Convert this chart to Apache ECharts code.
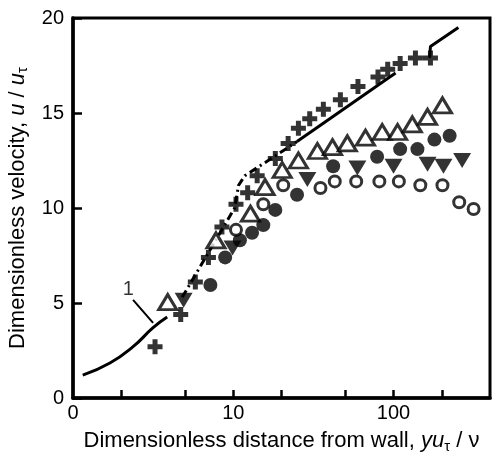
<!DOCTYPE html>
<html>
<head>
<meta charset="utf-8">
<script src="https://cdn.jsdelivr.net/npm/echarts@6/dist/echarts.min.js"></script>
<style>
  html, body { margin: 0; padding: 0; background: #fff; }
  #chart { width: 499px; height: 453px; }
</style>
</head>
<body>
<div id="chart"></div>
<script>
// [yu/v, u/u_tau] pairs
const crosses = [
  [3.25, 2.7], [4.7, 4.4], [5.8, 6.1], [7.0, 7.4], [8.5, 9.0], [10.4, 10.2],
  [12.3, 10.8], [14.1, 11.7], [18.3, 12.6], [22, 13.4], [25.5, 14.2], [30, 14.7],
  [36.5, 15.2], [46.6, 15.7], [60, 16.4], [80, 16.9], [92, 17.3], [110, 17.6],
  [137, 17.9], [170, 17.9]
]
const openTriangles = [
  [3.9, 5.05], [7.8, 8.3], [12.8, 9.7], [15.8, 11.1], [20.2, 12.0], [25.5, 12.5],
  [33.5, 13.0], [41.6, 13.2], [51.5, 13.4], [66.8, 13.7], [85, 14.0], [106, 14.0],
  [131, 14.4], [163, 14.8], [202, 15.4]
]
const filledTriangles = [
  [4.9, 5.15], [9.9, 7.9], [29, 11.5], [59.5, 12.1], [100, 12.2], [163, 12.3],
  [205, 12.2], [268, 12.5]
]
const filledCircles = [
  [7.2, 5.95], [8.9, 7.4], [11, 8.3], [13.1, 8.7], [15.4, 9.1], [18.3, 9.9],
  [25, 10.7], [42, 12.2], [79, 12.7], [110, 13.1], [141, 13.1], [180, 13.6], [224, 13.8]
]
const openCircles = [
  [10.4, 8.85], [15.4, 10.2], [20.5, 11.2], [35, 11.05], [43, 11.4], [58.5, 11.4],
  [81.6, 11.4], [108, 11.4], [147, 11.2], [202, 11.2], [257, 10.3], [316, 9.95]
]
// curve 1 (viscous sublayer)
const curve1 = [[1.15, 1.2], [1.7, 1.84], [2.37, 2.7], [3.16, 3.7], [3.87, 4.26]]
// dash-dot buffer-layer line
const bufferLine = [[4.8, 5.3], [10.2, 10.0], [10.8, 11.2], [11.8, 11.7], [18, 12.7], [25, 13.5]]
// log-law lines
const logLaw = [[25, 13.5], [103, 17.1]]
const outerLine = [[168, 17.9], [170, 18.5], [254, 19.5]]
// label "1" and its leader
const labelOne = [[2.21, 5.7]]
const leader = [[2.37, 5.16], [3.16, 3.95]]

const xTicks = [2, 5, 10, 20, 50, 100, 200]
const xLabels = [1, 10, 100]

const FONT = '"Liberation Sans", Arial, sans-serif'
const plus = 'path://M5,0H10V5H15V10H10V15H5V10H0V5H5Z'

const chart = echarts.init(document.getElementById('chart'), null, { renderer: 'canvas' })

const markerBase = { type: 'scatter', z: 5, animation: false }
const richTitle = {
  i: { fontStyle: 'italic', fontFamily: FONT, fontSize: 22, color: '#000', lineHeight: 26 },
  s: { fontFamily: FONT, fontSize: 15, color: '#000', verticalAlign: 'bottom', lineHeight: 26 }
}

chart.setOption({
  backgroundColor: '#fff',
  animation: false,
  grid: {
    left: 73, right: 9, top: 18, bottom: 55,
    containLabel: false, outerBoundsMode: 'none',
    show: true, borderColor: '#000', borderWidth: 3, backgroundColor: 'transparent'
  },
  xAxis: {
    type: 'log', logBase: 10, min: 1, max: 400,
    name: 'Dimensionless distance from wall, {i|yu}{s|τ} / ν',
    nameLocation: 'middle', nameGap: 29,
    nameTextStyle: { color: '#000', fontFamily: FONT, fontSize: 22, lineHeight: 26, rich: richTitle },
    axisLine: { show: true, lineStyle: { color: '#000', width: 3.5 } },
    axisTick: { show: true, inside: true, length: 8, lineStyle: { color: '#000', width: 2.5 }, customValues: xTicks },
    axisLabel: {
      customValues: xLabels, color: '#000', fontFamily: FONT, fontSize: 20, margin: 5,
      formatter: v => (v === 1 ? '0' : String(v))
    },
    minorTick: { show: false },
    splitLine: { show: false }
  },
  yAxis: {
    type: 'value', min: 0, max: 20, interval: 5,
    name: 'Dimensionless velocity, {i|u} / {i|u}{s|τ}',
    nameLocation: 'middle', nameGap: 37,
    nameTextStyle: { color: '#000', fontFamily: FONT, fontSize: 22, lineHeight: 26, rich: richTitle },
    axisLine: { show: true, lineStyle: { color: '#000', width: 3.5 } },
    axisTick: { show: true, inside: true, length: 9, lineStyle: { color: '#000', width: 2.5 } },
    axisLabel: { color: '#000', fontFamily: FONT, fontSize: 20, margin: 9 },
    splitLine: { show: false }
  },
  series: [
    {
      type: 'line', data: curve1, smooth: true, symbol: 'none', z: 3,
      lineStyle: { color: '#000', width: 3 }
    },
    {
      type: 'line', data: bufferLine, symbol: 'none', z: 3,
      lineStyle: { color: '#000', width: 3, type: [8, 4, 2, 4] }
    },
    {
      type: 'line', data: logLaw, symbol: 'none', z: 3,
      lineStyle: { color: '#000', width: 3 }
    },
    {
      type: 'line', data: outerLine, symbol: 'none', z: 3,
      lineStyle: { color: '#000', width: 3 }
    },
    {
      type: 'line', data: leader, symbol: 'none', z: 3,
      lineStyle: { color: '#000', width: 2 }
    },
    {
      ...markerBase, data: labelOne, symbolSize: 0,
      label: { show: true, position: 'inside', formatter: '1', color: '#000', fontFamily: FONT, fontSize: 20 }
    },
    {
      ...markerBase, data: crosses, symbol: plus, symbolSize: 15,
      itemStyle: { color: '#000' }
    },
    {
      ...markerBase, data: openTriangles, symbol: 'triangle', symbolSize: [18, 15],
      itemStyle: { color: '#fff', borderColor: '#000', borderWidth: 3 }
    },
    {
      ...markerBase, data: filledTriangles, symbol: 'triangle', symbolRotate: 180, symbolSize: [18, 15],
      itemStyle: { color: '#000' }
    },
    {
      ...markerBase, data: filledCircles, symbol: 'circle', symbolSize: 14,
      itemStyle: { color: '#000' }
    },
    {
      ...markerBase, data: openCircles, symbol: 'circle', symbolSize: 11,
      itemStyle: { color: '#fff', borderColor: '#000', borderWidth: 3 }
    }
  ]
})
</script>
</body>
</html>
